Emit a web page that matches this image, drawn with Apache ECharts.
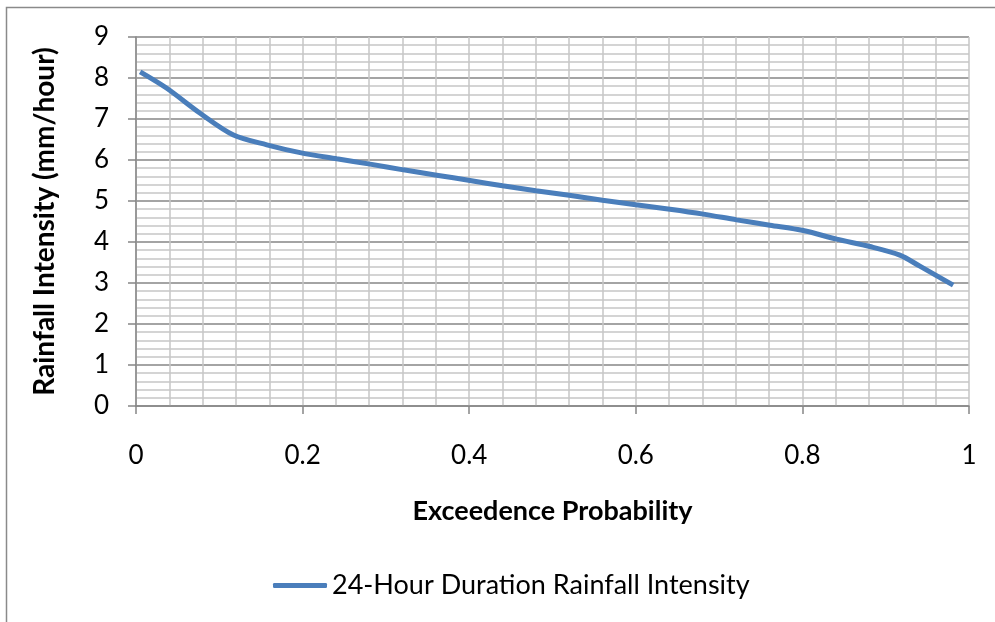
<!DOCTYPE html>
<html>
<head>
<meta charset="utf-8">
<script src="https://cdn.jsdelivr.net/npm/echarts@6/dist/echarts.min.js"></script>
<style>
  html, body {margin: 0; padding: 0; background: #fff;}
  #chart {width: 995px; height: 622px;}
</style>
</head>
<body>
<div id="chart"></div>
<script>
const seriesName = '24-Hour Duration Rainfall Intensity';
const probability = [0.005, 0.037, 0.077, 0.117, 0.157, 0.197, 0.241, 0.281, 0.321, 0.361, 0.401, 0.44, 0.48, 0.52, 0.56, 0.60, 0.641, 0.681, 0.721, 0.761, 0.801, 0.841, 0.881, 0.917, 0.941, 0.981];
const intensity = [8.15, 7.75, 7.14, 6.61, 6.37, 6.18, 6.03, 5.90, 5.76, 5.63, 5.50, 5.37, 5.25, 5.14, 5.02, 4.91, 4.80, 4.68, 4.54, 4.41, 4.28, 4.07, 3.89, 3.68, 3.41, 2.95];

const font = 'Lato, "Open Sans", sans-serif';
const axisGray = '#868686';
const minorGray = '#c6c6c6';

const myChart = echarts.init(document.getElementById('chart'));
myChart.setOption({
  animation: false,
  backgroundColor: '#fff',
  graphic: [{
    type: 'rect',
    shape: {x: 6.5, y: 7.5, width: 1000, height: 630},
    style: {fill: 'none', stroke: '#8a8a8a', lineWidth: 1.5},
    silent: true
  }],
  grid: {left: 136, right: 26, top: 37, bottom: 216},
  legend: {
    top: 567,
    left: 268,
    itemWidth: 54,
    itemHeight: 5,
    textStyle: {fontFamily: font, fontSize: 27, color: '#000'},
    data: [{name: seriesName, icon: 'roundRect'}]
  },
  xAxis: {
    type: 'value',
    min: 0,
    max: 1,
    interval: 0.2,
    name: 'Exceedence Probability',
    nameLocation: 'middle',
    nameGap: 92,
    nameTextStyle: {fontFamily: font, fontSize: 27, fontWeight: 'bold', color: '#000'},
    axisLine: {show: true, lineStyle: {color: axisGray, width: 1.5}},
    axisTick: {show: true, length: 8, lineStyle: {color: axisGray, width: 1.5}},
    axisLabel: {
      fontFamily: font, fontSize: 26, color: '#000', margin: 37,
      formatter: v => String(Math.round(v * 10) / 10)
    },
    splitLine: {show: true, lineStyle: {color: minorGray, width: 1.5}},
    minorTick: {show: false, splitNumber: 5},
    minorSplitLine: {show: true, lineStyle: {color: minorGray, width: 1.5}}
  },
  yAxis: {
    type: 'value',
    min: 0,
    max: 9,
    interval: 1,
    name: 'Rainfall Intensity (mm/hour)',
    nameLocation: 'middle',
    nameGap: 77,
    nameTextStyle: {fontFamily: font, fontSize: 28, fontWeight: 'bold', color: '#000'},
    axisLine: {show: true, lineStyle: {color: axisGray, width: 1.5}},
    axisTick: {show: true, length: 8, lineStyle: {color: axisGray, width: 1.5}},
    axisLabel: {fontFamily: font, fontSize: 26, color: '#000', margin: 27},
    splitLine: {show: true, lineStyle: {color: axisGray, width: 1.5}},
    minorTick: {show: false, splitNumber: 5},
    minorSplitLine: {show: true, lineStyle: {color: minorGray, width: 1.5}}
  },
  series: [{
    name: seriesName,
    type: 'line',
    data: probability.map((p, i) => [p, intensity[i]]),
    smooth: 0.3,
    symbol: 'none',
    itemStyle: {color: '#4a7ebb'},
    lineStyle: {color: '#4a7ebb', width: 5}
  }]
});
</script>
</body>
</html>
